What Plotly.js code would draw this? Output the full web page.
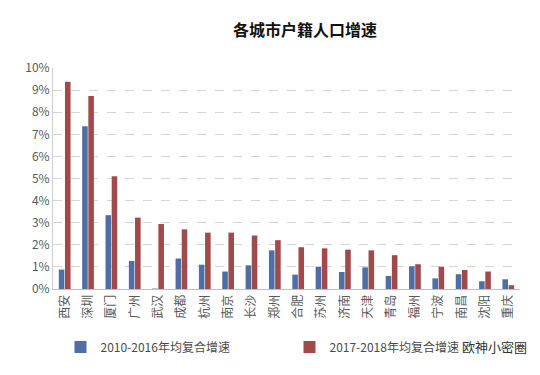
<!DOCTYPE html>
<html>
<head>
<meta charset="utf-8">
<script src="https://cdn.plot.ly/plotly-3.0.1.min.js"></script>
<style>html,body{margin:0;padding:0;background:#fff;}#chart{width:540px;height:375px;}</style>
</head>
<body>
<div id="chart"></div>
<script>
const cities = ["西安","深圳","厦门","广州","武汉","成都","杭州","南京","长沙","郑州","合肥","苏州","济南","天津","青岛","福州","宁波","南昌","沈阳","重庆"];
const growth2010_2016 = [0.0088,0.0736,0.0334,0.0127,0.0002,0.0138,0.0110,0.0079,0.0107,0.0175,0.0065,0.0101,0.0077,0.0098,0.0059,0.0103,0.0048,0.0067,0.0035,0.0044];
const growth2017_2018 = [0.0938,0.0873,0.0510,0.0323,0.0294,0.0270,0.0255,0.0255,0.0242,0.0221,0.0189,0.0184,0.0178,0.0175,0.0153,0.0112,0.0101,0.0086,0.0079,0.0017];
const seriesNames = ["2010-2016年均复合增速","2017-2018年均复合增速"];
const yTickVals = [0,0.01,0.02,0.03,0.04,0.05,0.06,0.07,0.08,0.09,0.10];

const font = "'Noto Sans CJK SC', 'Noto Sans', sans-serif";
const traces = [
  {type:'bar', x:cities, y:growth2010_2016, name:seriesNames[0], marker:{color:'#4f6ea6'}},
  {type:'bar', x:cities, y:growth2017_2018, name:seriesNames[1], marker:{color:'#a2494c'}}
];
const layout = {
  width:540, height:375,
  margin:{l:53, r:20, t:68, b:86, autoexpand:false},
  paper_bgcolor:'#fff', plot_bgcolor:'#fff',
  font:{family:font, color:'#595959', size:12},
  title:{text:'<b>各城市户籍人口增速</b>', x:0.565, xanchor:'center', y:0.918, yanchor:'middle',
         font:{family:font, size:16, color:'#111'}},
  barmode:'group', bargap:0.47, bargroupgap:0.1,
  showlegend:true,
  legend:{orientation:'h', xref:'container', yref:'container', x:0.112, xanchor:'left', y:0.075, yanchor:'middle',
          font:{family:font, size:12, color:'#4a4a4a'}, entrywidth:184, entrywidthmode:'pixels',
          bgcolor:'rgba(0,0,0,0)', traceorder:'normal'},
  xaxis:{tickangle:-90, tickfont:{family:font, size:12, color:'#595959'}, showline:true,
         linecolor:'#bfbfbf', linewidth:1, ticks:'', showgrid:false, fixedrange:true},
  yaxis:{range:[0,0.1], tickvals:yTickVals, tickformat:'.0%', showgrid:true,
         gridcolor:'#d4d4d4', griddash:'dash', gridwidth:1, showline:true, linecolor:'#d0d0d0',
         zeroline:false, ticks:'', tickfont:{family:font, size:12, color:'#595959'}, fixedrange:true},
  annotations:[
    {text:'欧神小密圈', xref:'paper', yref:'paper', x:1.02, y:-0.262, xanchor:'right', yanchor:'middle',
     showarrow:false, font:{family:font, size:13, color:'#333'}}
  ]
};
Plotly.newPlot('chart', traces, layout, {displayModeBar:false, staticPlot:true});
</script>
</body>
</html>
